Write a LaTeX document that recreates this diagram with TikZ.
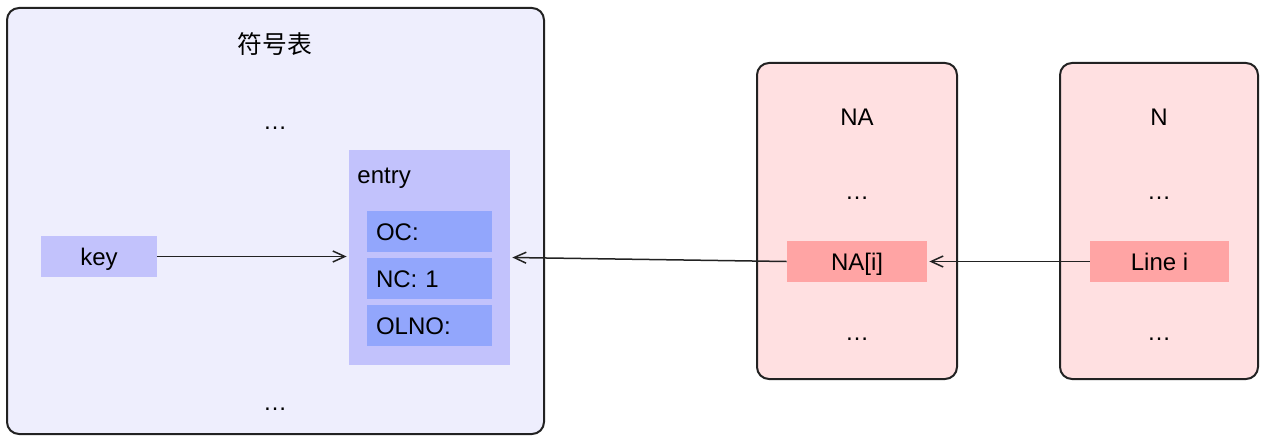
\documentclass[tikz,border=0pt]{standalone}
\usepackage{fontspec}
\setmainfont{Liberation Sans}
\newfontfamily\cjk{Noto Sans CJK SC}
\usetikzlibrary{arrows.meta}
\definecolor{bigfill}{RGB}{238,238,253}
\definecolor{entryfill}{RGB}{194,194,252}
\definecolor{subfill}{RGB}{146,166,252}
\definecolor{pinkfill}{RGB}{255,224,225}
\definecolor{redfill}{RGB}{255,164,164}
\definecolor{edge}{RGB}{34,34,34}
\begin{document}
\begin{tikzpicture}[x=0.5pt,y=-0.5pt,
  font=\fontsize{12pt}{14pt}\selectfont,
  panel/.style={draw=edge,line width=1pt,rounded corners=6pt,inner sep=0pt},
  cell/.style={draw=none,inner sep=0pt,minimum height=20.5pt,text height=8.6pt,text depth=0pt},
  subcell/.style={cell,fill=subfill,minimum width=62.5pt,text width=53.5pt,align=left,inner xsep=4.5pt},
  txt/.style={inner sep=0pt,text height=8.6pt,text depth=0pt},
  conn/.style={draw=edge,line width=0.75pt,-{Straight Barb[length=6pt,width=5.5pt,line width=0.75pt]}}]
\useasboundingbox (0,0) rectangle (1272,444);
% symbol table
\node[panel,fill=bigfill,minimum width=268.5pt,minimum height=213pt] (tab) at (275.5,221) {};
\node[txt] (tabtitle) at (275,45) {\cjk\fontsize{12.4pt}{14pt}\selectfont 符号表};
\node[txt] (tabdots1) at (275,121) {…};
\node[txt] (tabdots2) at (275,402) {…};
\node[cell,fill=entryfill,minimum width=80.5pt,minimum height=107.5pt] (entry) at (429.5,257.5) {};
\node[txt,anchor=west] (entrylbl) at (357,174.5) {entry};
\node[subcell] (oc) at (429.5,231.5) {OC:};
\node[subcell] (nc) at (429.5,278.5) {NC: 1};
\node[subcell] (olno) at (429.5,325.5) {OLNO:};
\node[cell,fill=entryfill,minimum width=58pt] (key) at (99,256.5) {key};
% NA
\node[panel,fill=pinkfill,minimum width=100pt,minimum height=158pt] (na) at (857,221) {};
\node[txt] (natitle) at (857,117) {NA};
\node[txt] (nadots1) at (857,191) {…};
\node[txt] (nadots2) at (857,332) {…};
\node[cell,fill=redfill,minimum width=70pt] (nai) at (857,261.5) {NA[i]};
% N
\node[panel,fill=pinkfill,minimum width=99pt,minimum height=158pt] (n) at (1159,221) {};
\node[txt] (ntitle) at (1159,117) {N};
\node[txt] (ndots1) at (1159,191) {…};
\node[txt] (ndots2) at (1159,332) {…};
\node[cell,fill=redfill,minimum width=69.5pt] (linei) at (1159.5,261.5) {Line i};
% connectors
\draw[conn] (key.east) -- ([xshift=-1pt]key.east -| entry.west);
\draw[conn] (nai.west) -- ([xshift=1pt]entry.east);
\draw[conn] (linei.west) -- ([xshift=1pt]nai.east);
\end{tikzpicture}
\end{document}
